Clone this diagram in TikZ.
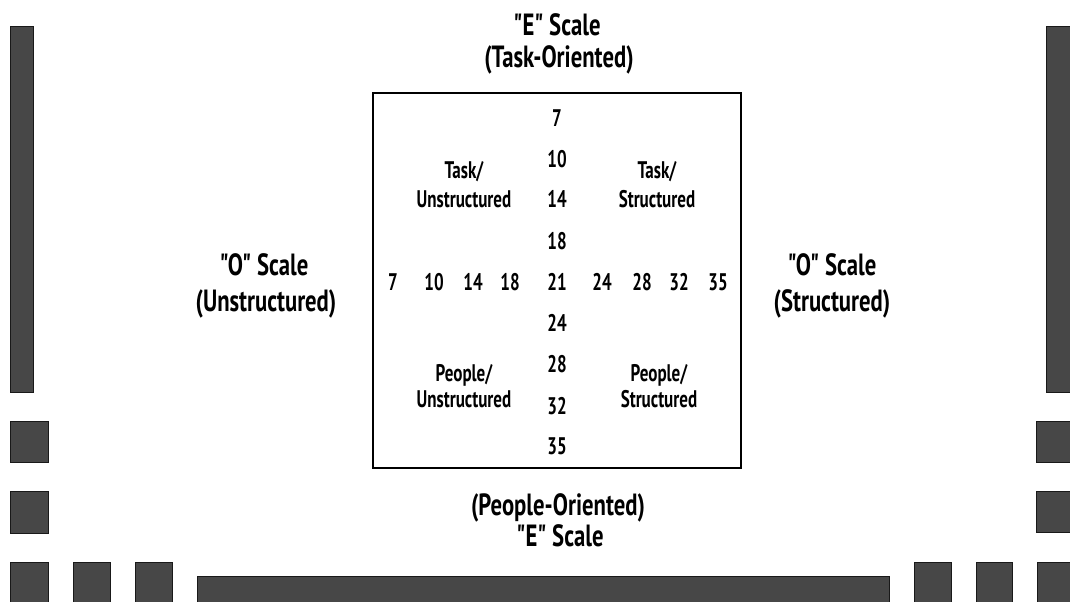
\documentclass[tikz,border=0pt]{standalone}
\usepackage{fontspec}
\setmainfont{PT Sans}
\newfontfamily\outerfont{PT Sans}[FakeStretch=0.74]
\newfontfamily\innerfont{PT Sans}[FakeStretch=0.71]
\newcommand{\sq}{\char34 }
\begin{document}
\begin{tikzpicture}[x=0.75pt,y=-0.75pt,
  bar/.style={fill=black!72,draw=black!90,line width=0.6pt},
  outer/.style={font=\outerfont\fontsize{23}{27}\selectfont\bfseries,inner sep=0pt,anchor=base},
  inner/.style={font=\innerfont\fontsize{18}{21}\selectfont\bfseries,inner sep=0pt},
  quad/.style={font=\innerfont\fontsize{18}{21}\selectfont\bfseries,inner sep=0pt,anchor=base},
  frame/.style={draw=black,line width=2pt}]
\useasboundingbox (0,0) rectangle (1070,602);
% decorative bars
\path[bar] (10,26) rectangle (33,392);
\path[bar] (1046,26) rectangle (1072,392);
\path[bar] (10,421) rectangle (48,462);
\path[bar] (10,491) rectangle (48,533);
\path[bar] (1036,421) rectangle (1072,462);
\path[bar] (1036,491) rectangle (1072,532);
\path[bar] (10,562) rectangle (48,604);
\path[bar] (73,562) rectangle (110,604);
\path[bar] (135,562) rectangle (172,604);
\path[bar] (197,576) rectangle (889,604);
\path[bar] (914,562) rectangle (951,604);
\path[bar] (976,562) rectangle (1012,604);
\path[bar] (1037,562) rectangle (1072,604);
% frame
\node[frame,minimum width=368*0.75pt,minimum height=375*0.75pt,inner sep=0pt] (grid) at (557,280.5) {};
% outer labels
\node[outer] (et1) at (557,36) {\sq E\sq{} Scale};
\node[outer] (et2) at (559,68) {(Task-Oriented)};
\node[outer] (eb1) at (558,515) {(People-Oriented)};
\node[outer] (eb2) at (560,546) {\sq E\sq{} Scale};
\node[outer] (ol1) at (264,275) {\sq O\sq{} Scale};
\node[outer] (ol2) at (266,311) {(Unstructured)};
\node[outer] (or1) at (832,275) {\sq O\sq{} Scale};
\node[outer] (or2) at (832,311) {(Structured)};
% vertical scale
\node[inner] (v7) at (557,118) {7};
\node[inner] (v10) at (557,159) {10};
\node[inner] (v14) at (557,199) {14};
\node[inner] (v18) at (557,241) {18};
\node[inner] (v21) at (557,282) {21};
\node[inner] (v24) at (557,323) {24};
\node[inner] (v28) at (557,364) {28};
\node[inner] (v32) at (557,406) {32};
\node[inner] (v35) at (557,446) {35};
% horizontal scale
\node[inner] (h7) at (393,282) {7};
\node[inner] (h10) at (434,282) {10};
\node[inner] (h14) at (473,282) {14};
\node[inner] (h18) at (510,282) {18};
\node[inner] (h24) at (602,282) {24};
\node[inner] (h28) at (642,282) {28};
\node[inner] (h32) at (679,282) {32};
\node[inner] (h35) at (718,282) {35};
% quadrant labels
\node[quad] (tu1) at (464,179) {Task/};
\node[quad] (tu2) at (464,208) {Unstructured};
\node[quad] (ts1) at (657,179) {Task/};
\node[quad] (ts2) at (657,208) {Structured};
\node[quad] (pu1) at (464,381) {People/};
\node[quad] (pu2) at (464,407) {Unstructured};
\node[quad] (ps1) at (659,381) {People/};
\node[quad] (ps2) at (659,407) {Structured};
\end{tikzpicture}
\end{document}
